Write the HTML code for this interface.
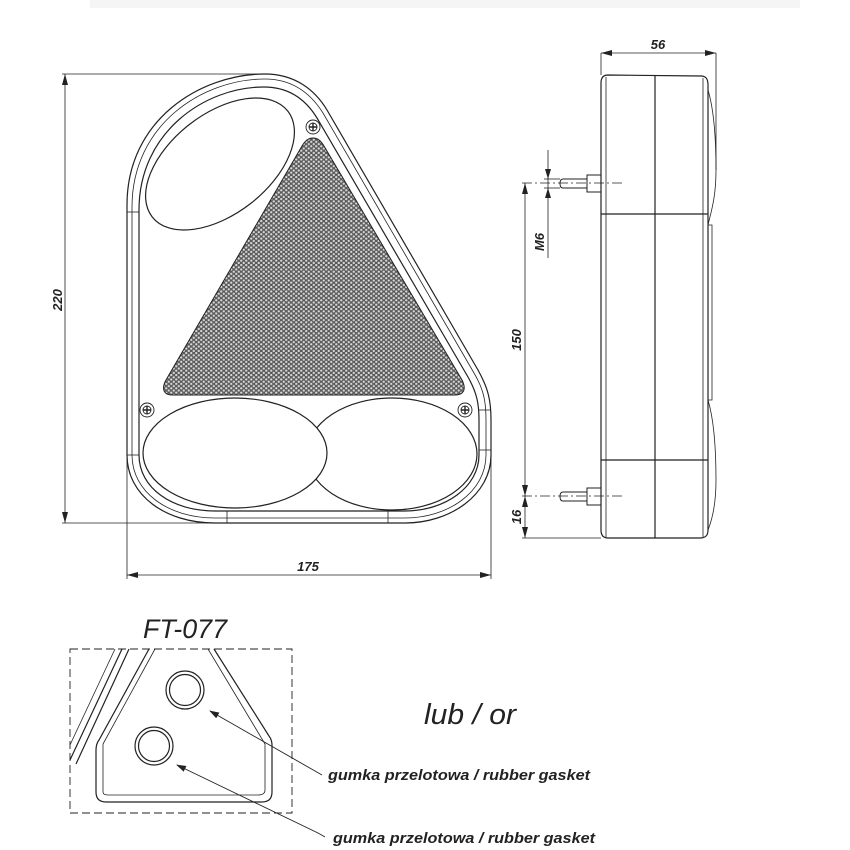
<!DOCTYPE html>
<html><head><meta charset="utf-8"><style>body{margin:0;background:#fff}svg{display:block}</style></head><body>
<svg width="850" height="850" viewBox="0 0 850 850" xmlns="http://www.w3.org/2000/svg" font-family="Liberation Sans, sans-serif">
<defs>
<pattern id="hex" width="5" height="4.4" patternUnits="userSpaceOnUse">
<rect width="5" height="4.4" fill="#5a5a5a"/>
<circle cx="1.25" cy="1.1" r="1.15" fill="#d8d8d8"/>
<circle cx="3.75" cy="3.3" r="1.15" fill="#d8d8d8"/>
</pattern>
<marker id="ar" markerWidth="10" markerHeight="8" refX="1" refY="4" orient="auto" markerUnits="userSpaceOnUse"><path d="M0,4 L10,0.8 L10,7.2Z" fill="#222"/></marker>
</defs>
<rect x="90" y="0" width="710" height="8" fill="#f5f5f5"/>
<g fill="none" stroke="#222" stroke-width="1.2">
<path d="M127,455 L127,205 C127,120 200,74 265,74 C295,74 315,90 327,110 L478,370 C488,388 491,400 491,420 L491,455 C491,495 450,523 405,523 L215,523 C165,523 127,495 127,455 Z"/>
<path d="M132,455 L132,207 C132,125 202,79 265,79 C293,79 311,94 323,113 L474,373 C484,390 486,402 486,420 L486,455 C486,492 448,518 405,518 L215,518 C168,518 132,492 132,455 Z" stroke-width="0.8"/>
<path d="M139,455 L139,210 C139,132 205,87 264,87 C290,87 306,100 317,118 L468,377 C477,393 479,404 479,420 L479,455 C479,487 445,511 405,511 L215,511 C172,511 139,488 139,455 Z"/>
<line x1="127" y1="212" x2="139" y2="212" stroke-width="0.8"/>
<line x1="127" y1="455" x2="139" y2="455" stroke-width="0.8"/>
<line x1="479" y1="410" x2="491" y2="410" stroke-width="0.8"/>
<line x1="479" y1="450" x2="491" y2="450" stroke-width="0.8"/>
<line x1="227" y1="511" x2="227" y2="523" stroke-width="0.8"/>
<line x1="388" y1="511" x2="388" y2="523" stroke-width="0.8"/>
<ellipse cx="220" cy="164" rx="86" ry="50" transform="rotate(-38 220 164)"/>
<path d="M313,138 C318,138 321,141 324,146 L462,380 C467,390 463,395 455,395 L172,395 C164,395 161,389 166,380 L302,146 C305,141 308,138 313,138Z" fill="url(#hex)" stroke-width="1"/>
<ellipse cx="392" cy="454" rx="85" ry="56"/>
<ellipse cx="235" cy="453" rx="92" ry="55" fill="#fff"/>
<g stroke-width="0.9">
<circle cx="147" cy="410" r="7"/><circle cx="147" cy="410" r="4"/>
<circle cx="313" cy="127" r="7"/><circle cx="313" cy="127" r="4"/>
<circle cx="465" cy="410" r="7"/><circle cx="465" cy="410" r="4"/>
</g>
<g stroke-width="1.4">
<path d="M143,410h8M147,406v8M309,127h8M313,123v8M461,410h8M465,406v8"/>
</g>
<g stroke-width="0.8">
<line x1="62" y1="74" x2="265" y2="74"/>
<line x1="62" y1="523" x2="215" y2="523"/>
<line x1="65" y1="74" x2="65" y2="523"/>
<line x1="127" y1="455" x2="127" y2="579"/>
<line x1="491" y1="450" x2="491" y2="579"/>
<line x1="127" y1="575" x2="491" y2="575"/>
</g>
<path d="M65,74 l-3,11 h6z M65,523 l-3,-11 h6z M127,575 l11,-3 v6z M491,575 l-11,-3 v6z" fill="#222" stroke="none"/>
<path d="M608,75 L701,76 C706,76 708,79 708,85 L708,530 C708,536 705,538 700,538 L608,538 C603,538 601,535 601,530 L601,83 C601,78 603,75 608,75Z"/>
<line x1="606" y1="77" x2="606" y2="537" stroke-width="0.8"/>
<line x1="703" y1="78" x2="703" y2="537" stroke-width="0.8"/>
<line x1="655" y1="75" x2="655" y2="538"/>
<line x1="601" y1="214" x2="708" y2="214"/>
<line x1="601" y1="460" x2="708" y2="460"/>
<path d="M708,90 C714,110 716,140 716,170 C716,200 710,215 708,225" stroke-width="0.8"/>
<path d="M708,400 C714,420 716,450 716,480 C716,505 712,520 708,530" stroke-width="0.8"/>
<path d="M708,225 L712,225 L712,400 L708,400" stroke-width="0.8"/>
<line x1="601" y1="53" x2="601" y2="75" stroke-width="0.8"/>
<line x1="716" y1="53" x2="716" y2="170" stroke-width="0.8"/>
<line x1="601" y1="53" x2="716" y2="53" stroke-width="0.8"/>
<path d="M601,53 l11,-3 v6z M716,53 l-11,-3 v6z" fill="#222" stroke="none"/>
<g stroke-width="1">
<rect x="587" y="175" width="14" height="17"/>
<path d="M587,179 L563,179 Q560,179 560,183.5 Q560,188 563,188 L587,188"/>
<rect x="587" y="488" width="14" height="17"/>
<path d="M587,492 L563,492 Q560,492 560,496.5 Q560,501 563,501 L587,501"/>
</g>
<g stroke-width="0.7" stroke-dasharray="10,3,2,3">
<line x1="522" y1="183" x2="623" y2="183"/>
<line x1="522" y1="496" x2="623" y2="496"/>
</g>
<g stroke-width="0.8">
<line x1="522" y1="538" x2="601" y2="538"/>
<line x1="525" y1="183" x2="525" y2="538"/>
<line x1="544" y1="179" x2="560" y2="179"/>
<line x1="544" y1="188" x2="560" y2="188"/>
<line x1="548" y1="150" x2="548" y2="258"/>
</g>
<path d="M525,183 l-3,11 h6z M525,496 l-3,-11 h6z M525,496 l-3,11 h6z M525,538 l-3,-11 h6z M548,179 l-3,-10 h6z M548,188 l-3,10 h6z" fill="#222" stroke="none"/>
<rect x="70" y="649" width="222" height="164" stroke-dasharray="8,4" stroke-width="0.9"/>
<path d="M70,760 L122,649 M76,764 L129,649" stroke-width="1.2"/>
<path d="M70,745 L115,649" stroke-width="0.8"/>
<path d="M149,649 L99,740 Q96,744 96,750 L96,792 Q96,802 106,802 L262,802 Q272,802 272,792 L272,745 Q272,740 269,736 L214,649"/>
<path d="M155,649 L103,744 L103,792 Q103,795 108,795 L258,795 Q265,795 265,790 L265,744 L208,649" stroke-width="0.8"/>
<circle cx="185" cy="690" r="19"/><circle cx="185" cy="690" r="15.5"/>
<circle cx="154" cy="746" r="19"/><circle cx="154" cy="746" r="15.5"/>
<path d="M210,711 L315,771 L322,775" stroke-width="0.9" marker-start="url(#ar)"/>
<path d="M177,765 L318,833 L325,837" stroke-width="0.9" marker-start="url(#ar)"/>
</g>
<g fill="#222" font-style="italic" font-weight="bold" font-size="13">
<text transform="translate(62,300) rotate(-90)" text-anchor="middle">220</text>
<text x="308" y="571" text-anchor="middle">175</text>
<text x="658" y="49" text-anchor="middle">56</text>
<text transform="translate(521,340) rotate(-90)" text-anchor="middle">150</text>
<text transform="translate(521,517) rotate(-90)" text-anchor="middle">16</text>
<text transform="translate(544,242) rotate(-90)" text-anchor="middle">M6</text>
<text x="328" y="780" font-size="14.5" textLength="262" lengthAdjust="spacingAndGlyphs">gumka przelotowa / rubber gasket</text>
<text x="333" y="843" font-size="14.5" textLength="262" lengthAdjust="spacingAndGlyphs">gumka przelotowa / rubber gasket</text>
</g>
<g fill="#222" font-style="italic">
<text x="143" y="638" font-size="27" textLength="84" lengthAdjust="spacingAndGlyphs">FT-077</text>
<text x="424" y="724" font-size="29" textLength="92" lengthAdjust="spacingAndGlyphs">lub / or</text>
</g>
</svg>
</body></html>
